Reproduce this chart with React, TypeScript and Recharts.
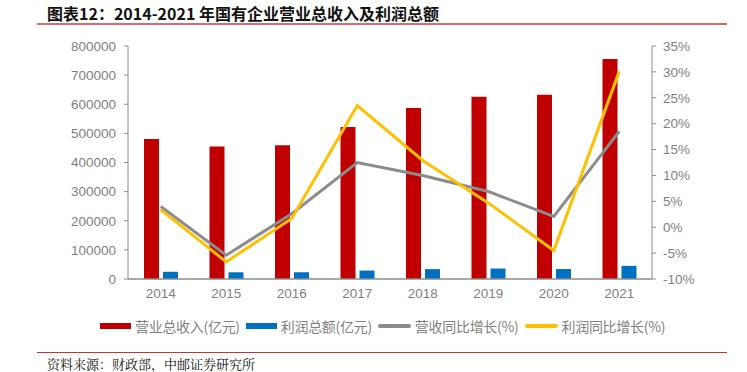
import { ComposedChart, Bar, Line, XAxis, YAxis } from 'recharts'

// 2014-2021 国有企业营业总收入及利润总额
const years = ['2014', '2015', '2016', '2017', '2018', '2019', '2020', '2021']
const revenue = [480636, 454704, 458978, 522015, 587501, 625521, 632868, 755544]
const profit = [24765, 23028, 23158, 28986, 33878, 35961, 34223, 45165]
const revenueGrowth = [4.0, -5.4, 2.6, 12.5, 10.0, 6.9, 2.1, 18.5]
const profitGrowth = [3.4, -6.7, 1.7, 23.5, 12.9, 4.7, -4.5, 30.1]

const leftTicks = [0, 100000, 200000, 300000, 400000, 500000, 600000, 700000, 800000]
const rightTicks = [-10, -5, 0, 5, 10, 15, 20, 25, 30, 35]

const data = years.map((y, i) => ({
  year: y,
  revenue: revenue[i],
  profit: profit[i],
  revenueGrowth: revenueGrowth[i],
  profitGrowth: profitGrowth[i],
}))

const axisColor = '#8c8c8c'
const tickStyle = { fill: '#7f7f7f', fontSize: 13.5, fontFamily: '"Liberation Sans", Arial, sans-serif' }
const cjk = '"Noto Sans CJK SC", "Noto Sans", sans-serif'

const legendItems = [
  { label: '营业总收入(亿元)', color: '#C00000', kind: 'bar' },
  { label: '利润总额(亿元)', color: '#0070C0', kind: 'bar' },
  { label: '营收同比增长(%)', color: '#8c8c8c', kind: 'line' },
  { label: '利润同比增长(%)', color: '#FFC000', kind: 'line' },
]

export default function App() {
  return (
    <div style={{ position: 'absolute', left: 0, top: 0, width: 747, height: 372, background: '#fff', overflow: 'hidden' }}>
      {/* 标题 */}
      <div style={{ position: 'absolute', left: 47, top: 2, fontFamily: cjk, fontWeight: 700, fontSize: 16, lineHeight: '22px', color: '#111', whiteSpace: 'nowrap' }}>
        图表12：2014-2021 年国有企业营业总收入及利润总额
      </div>
      <div style={{ position: 'absolute', left: 37, top: 23, width: 690, height: 2, background: '#e06a6a' }} />

      <div style={{ position: 'absolute', left: 0, top: 0 }}>
        <ComposedChart width={747} height={372} data={data} margin={{ top: 46, right: 0, bottom: 0, left: 0 }} barSize={15} barGap={4}>
          <XAxis dataKey="year" height={93} tickLine={false} tickMargin={3} axisLine={{ stroke: axisColor, strokeWidth: 1.5 }} tick={tickStyle} interval={0} />
          <YAxis yAxisId="left" width={128} domain={[0, 800000]} ticks={leftTicks} tickSize={4} tickMargin={8} axisLine={{ stroke: axisColor }} tickLine={{ stroke: axisColor }} tick={tickStyle} interval={0} />
          <YAxis yAxisId="right" orientation="right" width={95} domain={[-10, 35]} ticks={rightTicks} tickSize={4} tickMargin={7} axisLine={{ stroke: axisColor }} tickLine={{ stroke: axisColor }} tick={tickStyle} tickFormatter={(v) => `${v}%`} interval={0} />
          <Bar yAxisId="left" dataKey="revenue" fill="#C00000" isAnimationActive={false} />
          <Bar yAxisId="left" dataKey="profit" fill="#0070C0" isAnimationActive={false} />
          <Line yAxisId="right" dataKey="revenueGrowth" type="linear" stroke="#8c8c8c" strokeWidth={3} dot={false} isAnimationActive={false} />
          <Line yAxisId="right" dataKey="profitGrowth" type="linear" stroke="#FFC000" strokeWidth={3} dot={false} isAnimationActive={false} />
        </ComposedChart>
      </div>

      {/* 图例 */}
      <div style={{ position: 'absolute', left: 100, top: 316, display: 'flex', alignItems: 'center', fontFamily: cjk, fontSize: 14, color: '#7f7f7f', whiteSpace: 'nowrap' }}>
        {legendItems.map((it) => (
          <div key={it.label} style={{ display: 'flex', alignItems: 'center', marginRight: 6 }}>
            <div style={{ width: it.kind === 'bar' ? 31 : 33, height: it.kind === 'bar' ? 6 : 4, borderRadius: it.kind === 'bar' ? 0 : 2, background: it.color, marginRight: 4 }} />
            <span style={{ letterSpacing: -0.3 }}>{it.label}</span>
          </div>
        ))}
      </div>

      {/* 资料来源 */}
      <div style={{ position: 'absolute', left: 37, top: 352, width: 690, height: 1, background: '#c0392b' }} />
      <div style={{ position: 'absolute', left: 47, top: 356, fontFamily: '"Noto Serif CJK SC", "Noto Sans CJK SC", serif', fontSize: 13, lineHeight: '15px', color: '#111', whiteSpace: 'nowrap' }}>
        资料来源：财政部，中邮证券研究所
      </div>
    </div>
  )
}
